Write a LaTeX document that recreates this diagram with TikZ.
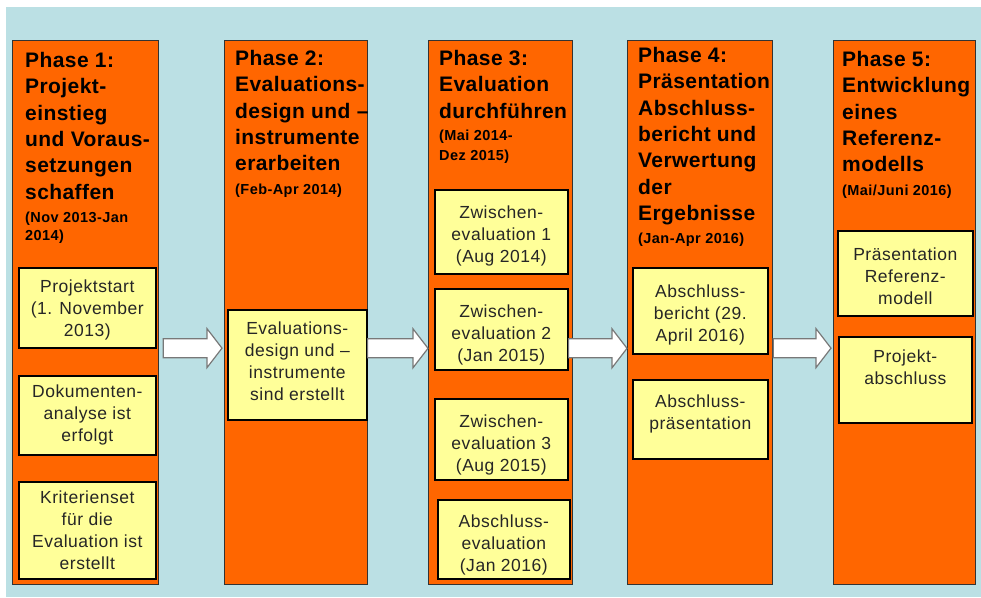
\documentclass[tikz,border=0pt]{standalone}
\usepackage{fontspec}
\setmainfont{Liberation Sans}
\newfontfamily\titlefont[LetterSpace=2]{Liberation Sans}
\newfontfamily\datefont[LetterSpace=3]{Liberation Sans}
\newfontfamily\boxfontfam[LetterSpace=3]{Liberation Sans}
\usetikzlibrary{calc}
\definecolor{bgblue}{RGB}{187,224,228}
\definecolor{phaseorange}{RGB}{255,102,0}
\definecolor{boxyellow}{RGB}{255,255,153}
\definecolor{arrowgray}{RGB}{120,120,120}
\newcommand\blockarrow[2]{%
  \draw[barrow] let \p1=(#1), \p2=(#2) in
    (\x1,\y1+9.5pt) -- (\x2-15pt,\y1+9.5pt) -- (\x2-15pt,\y1+19.5pt) -- (\x2,\y1)
    -- (\x2-15pt,\y1-19.5pt) -- (\x2-15pt,\y1-9.5pt) -- (\x1,\y1-9.5pt) -- cycle;}
\begin{document}
\begin{tikzpicture}[x=1pt,y=-1pt,
  phase/.style={draw=black!80, line width=1.3pt, fill=phaseorange, anchor=north west, inner sep=0pt, minimum height=544pt},
  ybox/.style={draw=black, line width=1.6pt, fill=boxyellow, anchor=north west, inner sep=0pt},
  ptitle/.style={anchor=north west, inner sep=0pt, align=left, text=black, font=\titlefont\bfseries\fontsize{21}{26.4}\selectfont},
  pdate/.style={anchor=north west, inner sep=0pt, align=left, text=black, font=\datefont\bfseries\fontsize{14.5}{18}\selectfont},
  btext/.style={anchor=north, inner sep=0pt, align=center, text=black!85, font=\boxfontfam\fontsize{17.5}{22}\selectfont},
  barrow/.style={draw=arrowgray, line width=1.2pt, fill=white, line join=miter}
]
\useasboundingbox (0,0) rectangle (981,597);
\fill[white] (0,0) rectangle (981,597);
\fill[bgblue] (6,7) rectangle (981,597);

% phase columns
\node[phase, minimum width=146pt] (c1) at (12,40) {};
\node[phase, minimum width=143pt] (c2) at (224,40) {};
\node[phase, minimum width=144pt] (c3) at (428,40) {};
\node[phase, minimum width=145pt] (c4) at (627,40) {};
\node[phase, minimum width=142pt] (c5) at (833,40) {};

% yellow boxes
\node[ybox, minimum width=137pt, minimum height=80pt] (b11) at (18,267) {};
\node[ybox, minimum width=137pt, minimum height=79pt] (b12) at (18,375) {};
\node[ybox, minimum width=137pt, minimum height=97pt] (b13) at (18,481) {};
\node[ybox, minimum width=139pt, minimum height=110pt] (b21) at (227,309) {};
\node[ybox, minimum width=133pt, minimum height=84pt] (b31) at (434,189) {};
\node[ybox, minimum width=133pt, minimum height=81pt] (b32) at (434,288) {};
\node[ybox, minimum width=133pt, minimum height=81pt] (b33) at (434,398) {};
\node[ybox, minimum width=132pt, minimum height=79pt] (b34) at (437,499) {};
\node[ybox, minimum width=135pt, minimum height=86pt] (b41) at (632,267) {};
\node[ybox, minimum width=135pt, minimum height=79pt] (b42) at (632,379) {};
\node[ybox, minimum width=135pt, minimum height=85pt] (b51) at (837,230) {};
\node[ybox, minimum width=133pt, minimum height=86pt] (b52) at (838,336) {};

% block arrows
\blockarrow{$(c1.east)+(4pt,-35.5pt)$}{$(c2.west)+(-2pt,0pt)$}
\blockarrow{$(b21.east)+(0pt,16.5pt)$}{c3.west}
\blockarrow{$(b32.east)+(0pt,-19pt)$}{c4.west}
\blockarrow{$(c4.east)+(0pt,-35.5pt)$}{$(c5.west)+(-2pt,0pt)$}

% phase titles
\node[ptitle] (h1) at ($(c1.north west)+(13,11.9)$) {Phase 1:\\Projekt-\\einstieg\\und Voraus-\\setzungen\\schaffen};
\node[ptitle] (h2) at ($(c2.north west)+(11,9.9)$) {Phase 2:\\Evaluations-\\design und –\\instrumente\\erarbeiten};
\node[ptitle] (h3) at ($(c3.north west)+(11,9.9)$) {Phase 3:\\Evaluation\\durchführen};
\node[ptitle] (h4) at ($(c4.north west)+(11,6.9)$) {Phase 4:\\Präsentation\\Abschluss-\\bericht und\\Verwertung\\der\\Ergebnisse};
\node[ptitle] (h5) at ($(c5.north west)+(9,10.9)$) {Phase 5:\\Entwicklung\\eines\\Referenz-\\modells};

% dates
\node[pdate] (d1) at ($(c1.north west)+(13,171.4)$) {(Nov 2013-Jan\\2014)};
\node[pdate] (d2) at ($(c2.north west)+(11,143.4)$) {(Feb-Apr 2014)};
\node[pdate] (d3) at ($(c3.north west)+(11,89.4)$) {(Mai 2014-\\[2pt]Dez 2015)};
\node[pdate] (d4) at ($(c4.north west)+(11,192.4)$) {(Jan-Apr 2016)};
\node[pdate] (d5) at ($(c5.north west)+(9,144.4)$) {(Mai/Juni 2016)};

% box texts
\node[btext] (t11) at ($(b11.north)+(0,12.4)$) {Projektstart\\(1. November\\2013)};
\node[btext] (t12) at ($(b12.north)+(0,9.4)$) {Dokumenten-\\analyse ist\\erfolgt};
\node[btext] (t13) at ($(b13.north)+(0,9.4)$) {Kriterienset\\für die\\Evaluation ist\\erstellt};
\node[btext] (t21) at ($(b21.north)+(0,12.4)$) {Evaluations-\\design und –\\instrumente\\sind erstellt};
\node[btext] (t31) at ($(b31.north)+(0,16.4)$) {Zwischen-\\evaluation 1\\(Aug 2014)};
\node[btext] (t32) at ($(b32.north)+(0,16.4)$) {Zwischen-\\evaluation 2\\(Jan 2015)};
\node[btext] (t33) at ($(b33.north)+(0,16.4)$) {Zwischen-\\evaluation 3\\(Aug 2015)};
\node[btext] (t34) at ($(b34.north)+(0,15.4)$) {Abschluss-\\evaluation\\(Jan 2016)};
\node[btext] (t41) at ($(b41.north)+(0,17.4)$) {Abschluss-\\bericht (29.\\April 2016)};
\node[btext] (t42) at ($(b42.north)+(0,15.4)$) {Abschluss-\\präsentation};
\node[btext] (t51) at ($(b51.north)+(0,17.4)$) {Präsentation\\Referenz-\\modell};
\node[btext] (t52) at ($(b52.north)+(0,13.4)$) {Projekt-\\abschluss};
\end{tikzpicture}
\end{document}
